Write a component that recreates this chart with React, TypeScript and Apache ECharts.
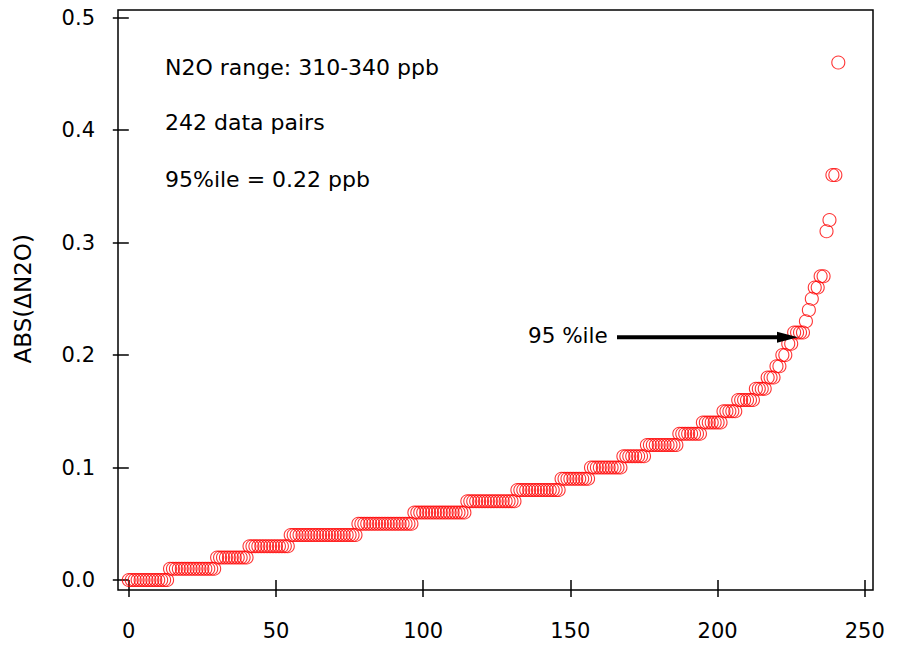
import React, { useEffect, useRef } from "react";
import * as echarts from "echarts";

// Sorted ABS(ΔN2O) values (ppb): each level and the number of data pairs at that level
const levels = [
  0.0, 0.01, 0.02, 0.03, 0.04, 0.05, 0.06, 0.07, 0.08, 0.09,
  0.1, 0.11, 0.12, 0.13, 0.14, 0.15, 0.16, 0.17, 0.18, 0.19,
  0.2, 0.21, 0.22, 0.23, 0.24, 0.25, 0.26, 0.27, 0.31, 0.32,
  0.36, 0.46,
];
const counts = [
  14, 16, 11, 14, 23, 19, 18, 17, 15, 10,
  11, 8, 11, 8, 7, 5, 6, 4, 3, 2,
  2, 2, 4, 1, 1, 1, 2, 2, 1, 1,
  2, 1,
];

const xTicks = [0, 50, 100, 150, 200, 250];
const yTicks = [0.0, 0.1, 0.2, 0.3, 0.4, 0.5];
const notes = ["N2O range: 310-340 ppb", "242 data pairs", "95%ile = 0.22 ppb"];
const arrowLabel = "95 %ile";
const yTitle = "ABS(ΔN2O)";

const FONT = "DejaVu Sans";

export default function App() {
  const ref = useRef<HTMLDivElement>(null);
  useEffect(() => {
    if (!ref.current) return;
    const chart = echarts.init(ref.current, undefined, { renderer: "svg" });
    const data: number[][] = [];
    let idx = 0;
    levels.forEach((v, i) => {
      for (let k = 0; k < counts[i]; k++) {
        data.push([idx, v]);
        idx++;
      }
    });
    chart.setOption({
      animation: false,
      backgroundColor: "#ffffff",
      grid: { left: 128.8, right: 34.2, top: 17.5, bottom: 65 },
      xAxis: {
        type: "value",
        min: xTicks[0],
        max: xTicks[xTicks.length - 1],
        interval: 50,
        offset: 10,
        axisLine: { show: false },
        axisTick: { show: true, inside: false, length: 17, lineStyle: { color: "#000", width: 1.5 } },
        axisLabel: { margin: 30, color: "#000", fontSize: 21, fontFamily: FONT },
        splitLine: { show: false },
      },
      yAxis: {
        type: "value",
        min: yTicks[0],
        max: yTicks[yTicks.length - 1],
        interval: 0.1,
        offset: 10.8,
        name: yTitle,
        nameLocation: "middle",
        nameRotate: 90,
        nameGap: 84,
        nameTextStyle: { color: "#000", fontSize: 23, fontFamily: FONT },
        axisLine: { show: false },
        axisTick: { show: true, inside: false, length: 16, lineStyle: { color: "#000", width: 1.5 } },
        axisLabel: {
          margin: 23,
          color: "#000",
          fontSize: 21,
          fontFamily: FONT,
          formatter: (v: number) => v.toFixed(1),
        },
        splitLine: { show: false },
      },
      series: [
        {
          type: "scatter",
          data,
          clip: false,
          symbol: "circle",
          symbolSize: 13,
          itemStyle: { color: "rgba(255,255,255,0)", borderColor: "#ff0000", borderWidth: 1.1 },
        },
      ],
      graphic: [
        {
          type: "rect",
          shape: { x: 118, y: 10, width: 755, height: 580 },
          style: { fill: "none", stroke: "#000", lineWidth: 1.5 },
          z: 10,
        },
        ...notes.map((t, i) => ({
          type: "text",
          left: 165,
          top: [56, 111, 168][i],
          style: { text: t, fill: "#000", fontSize: 22, fontFamily: FONT },
          z: 10,
        })),
        {
          type: "text",
          left: 528,
          top: 324,
          style: { text: arrowLabel, fill: "#000", fontSize: 21.5, fontFamily: FONT },
          z: 10,
        },
        {
          type: "line",
          shape: { x1: 617, y1: 337.3, x2: 782, y2: 337.3 },
          style: { stroke: "#000", lineWidth: 4 },
          z: 10,
        },
        {
          type: "polygon",
          shape: { points: [[777, 331.8], [798, 337.3], [777, 342.8]] },
          style: { fill: "#000" },
          z: 10,
        },
      ],
    });
    return () => chart.dispose();
  }, []);
  return (
    <div
      ref={ref}
      style={{ position: "absolute", left: 0, top: 0, width: 899, height: 645, background: "#fff" }}
    />
  );
}
